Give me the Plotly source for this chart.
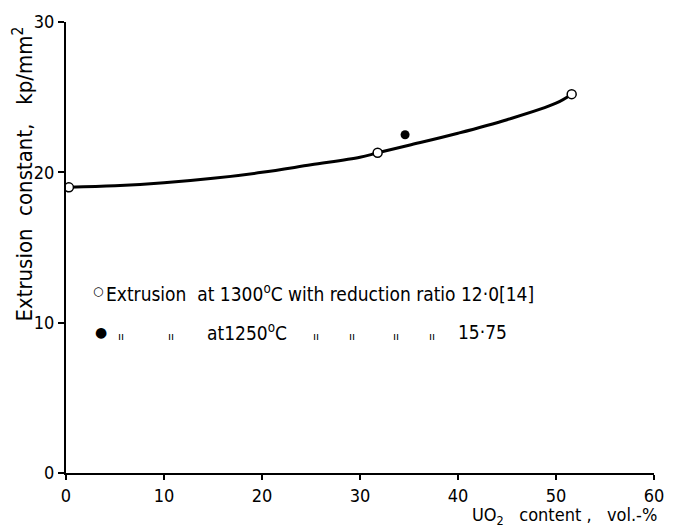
import plotly.graph_objects as go

# Data
open_x = [0.3, 31.8, 51.6]
open_y = [19.0, 21.3, 25.2]
filled_x = [34.6]
filled_y = [22.5]
curve_x = [0.3, 5, 10, 15, 20, 25, 30, 31.8, 35, 40, 45, 50, 51.6]
curve_y = [19.0, 19.1, 19.3, 19.6, 20.0, 20.5, 21.0, 21.3, 21.8, 22.6, 23.5, 24.6, 25.2]
x_ticks = [0, 10, 20, 30, 40, 50, 60]
x_ticklabels = ["0", "10", "20", "30", "40", "50", "60"]
y_ticks = [0, 10, 20, 30]
y_ticklabels = ["0", "10", "20", "30"]

FONT = "DejaVu Sans Condensed, Roboto, sans-serif"
TXT = 19

fig = go.Figure()
fig.add_trace(go.Scatter(x=curve_x, y=curve_y, mode="lines",
                         line=dict(color="black", width=3, shape="spline"),
                         hoverinfo="skip", showlegend=False))
fig.add_trace(go.Scatter(x=open_x, y=open_y, mode="markers",
                         marker=dict(symbol="circle", size=9, color="white",
                                     line=dict(color="black", width=1.5)),
                         showlegend=False))
fig.add_trace(go.Scatter(x=filled_x, y=filled_y, mode="markers",
                         marker=dict(symbol="circle", size=9, color="black"),
                         showlegend=False))

line1_y = 12.0
line2_y = 9.36
ann = []
ann.append(dict(x=3.3, y=line1_y + 0.1, xref="x", yref="y", xanchor="center", yanchor="middle",
                text="○", showarrow=False, font=dict(family="DejaVu Sans", size=12, color="black")))
ann.append(dict(x=3.9, y=line1_y, xref="x", yref="y", xanchor="left", yanchor="middle",
                text="Extrusion  at 1300<sup>o</sup>C with reduction ratio 12·0[14]",
                showarrow=False, font=dict(family=FONT, size=TXT, color="black")))
ann.append(dict(x=3.6, y=line2_y, xref="x", yref="y", xanchor="center", yanchor="middle",
                text="●", showarrow=False, font=dict(family="DejaVu Sans", size=14, color="black")))
for dx in [5.6, 10.7, 25.5, 29.2, 33.7, 37.3]:
    ann.append(dict(x=dx, y=line2_y - 0.25, xref="x", yref="y", xanchor="center", yanchor="middle",
                    text="ıı", showarrow=False,
                    font=dict(family="DejaVu Sans", size=11, color="black")))
ann.append(dict(x=14.2, y=line2_y, xref="x", yref="y", xanchor="left", yanchor="middle",
                text="at1250<sup>o</sup>C", showarrow=False, font=dict(family=FONT, size=TXT, color="black")))
ann.append(dict(x=39.8, y=line2_y, xref="x", yref="y", xanchor="left", yanchor="middle",
                text="15·75", showarrow=False, font=dict(family=FONT, size=TXT, color="black")))
# x-axis title
ann.append(dict(x=1.0067, y=-0.1235, xref="paper", yref="paper", xanchor="right", yanchor="bottom",
                text="UO<sub>2</sub>   content ,   vol.-%", showarrow=False, borderpad=0,
                font=dict(family=FONT, size=18, color="black")))
# y-axis title (rotated)
ann.append(dict(x=-0.0736, y=19.9, xref="paper", yref="y", xanchor="center", yanchor="middle",
                textangle=-90, text="Extrusion  constant,   kp/mm<sup>2</sup>", showarrow=False,
                font=dict(family=FONT, size=22, color="black")))

fig.update_layout(
    width=675, height=529,
    margin=dict(l=66, r=11, t=19, b=56),
    paper_bgcolor="white", plot_bgcolor="white",
    font=dict(family=FONT, size=18, color="black"),
    annotations=ann,
    showlegend=False,
)
fig.update_xaxes(range=[0, 60], tickvals=x_ticks, ticktext=x_ticklabels,
                 showline=True, linecolor="black", linewidth=2,
                 ticks="outside", ticklen=5, tickwidth=1.5, tickcolor="black",
                 tickfont=dict(family=FONT, size=18),
                 showgrid=False, zeroline=False)
fig.update_yaxes(range=[0, 30], tickvals=y_ticks, ticktext=y_ticklabels,
                 showline=True, linecolor="black", linewidth=2,
                 ticks="outside", ticklen=6, tickwidth=1.5, tickcolor="black",
                 tickfont=dict(family=FONT, size=18),
                 showgrid=False, zeroline=False)

fig.write_html("out.html")
